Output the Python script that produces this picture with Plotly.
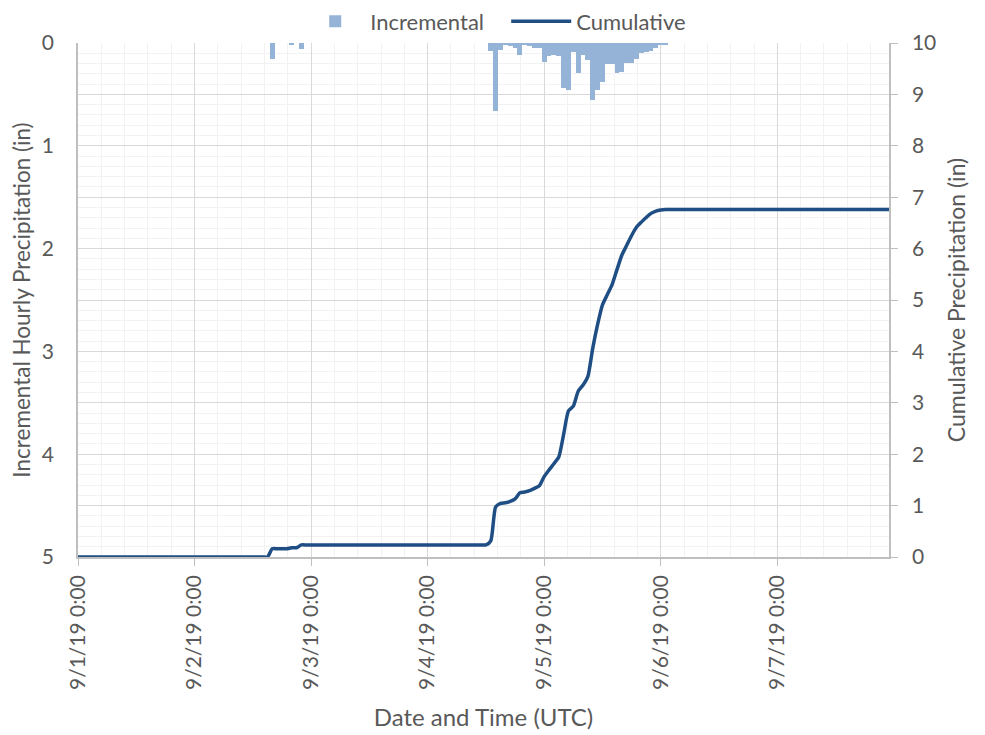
import plotly.graph_objects as go

# Hours since 9/1/19 0:00 UTC (hourly, 168 points)
hours = list(range(168))

# Incremental hourly precipitation (in), one row per day
incremental = (
    [0, 0, 0, 0, 0, 0, 0, 0, 0, 0, 0, 0, 0, 0, 0, 0, 0, 0, 0, 0, 0, 0, 0, 0]
    + [0, 0, 0, 0, 0, 0, 0, 0, 0, 0, 0, 0, 0, 0, 0, 0, 0.16, 0, 0, 0, 0.02, 0, 0.055, 0]
    + [0, 0, 0, 0, 0, 0, 0, 0, 0, 0, 0, 0, 0, 0, 0, 0, 0, 0, 0, 0, 0, 0, 0, 0]
    + [0, 0, 0, 0, 0, 0, 0, 0, 0, 0, 0, 0, 0, 0.08, 0.66, 0.07, 0.01, 0.025, 0.05, 0.12,
       0.015, 0.025, 0.045, 0.05]
    + [0.18, 0.13, 0.12, 0.13, 0.44, 0.46, 0.09, 0.29, 0.12, 0.17, 0.55, 0.46, 0.38, 0.20,
       0.20, 0.29, 0.28, 0.19, 0.19, 0.16, 0.10, 0.09, 0.08, 0.045]
    + [0.02, 0.01, 0, 0, 0, 0, 0, 0, 0, 0, 0, 0, 0, 0, 0, 0, 0, 0, 0, 0, 0, 0, 0, 0]
    + [0, 0, 0, 0, 0, 0, 0, 0, 0, 0, 0, 0, 0, 0, 0, 0, 0, 0, 0, 0, 0, 0, 0, 0]
)

# Cumulative precipitation (in), one row per day
cumulative = (
    [0, 0, 0, 0, 0, 0, 0, 0, 0, 0, 0, 0, 0, 0, 0, 0, 0, 0, 0, 0, 0, 0, 0, 0]
    + [0, 0, 0, 0, 0, 0, 0, 0, 0, 0, 0, 0, 0, 0, 0, 0, 0.16, 0.16, 0.16, 0.16, 0.18, 0.18,
       0.235, 0.235]
    + [0.235, 0.235, 0.235, 0.235, 0.235, 0.235, 0.235, 0.235, 0.235, 0.235, 0.235, 0.235,
       0.235, 0.235, 0.235, 0.235, 0.235, 0.235, 0.235, 0.235, 0.235, 0.235, 0.235, 0.235]
    + [0.235, 0.235, 0.235, 0.235, 0.235, 0.235, 0.235, 0.235, 0.235, 0.235, 0.235, 0.235,
       0.235, 0.315, 0.975, 1.045, 1.055, 1.08, 1.13, 1.25, 1.265, 1.29, 1.335, 1.385]
    + [1.565, 1.695, 1.815, 1.945, 2.385, 2.845, 2.935, 3.225, 3.345, 3.515, 4.065, 4.525,
       4.905, 5.105, 5.305, 5.595, 5.875, 6.065, 6.255, 6.415, 6.515, 6.605, 6.685, 6.73]
    + [6.75, 6.76, 6.76, 6.76, 6.76, 6.76, 6.76, 6.76, 6.76, 6.76, 6.76, 6.76,
       6.76, 6.76, 6.76, 6.76, 6.76, 6.76, 6.76, 6.76, 6.76, 6.76, 6.76, 6.76]
    + [6.76, 6.76, 6.76, 6.76, 6.76, 6.76, 6.76, 6.76, 6.76, 6.76, 6.76, 6.76,
       6.76, 6.76, 6.76, 6.76, 6.76, 6.76, 6.76, 6.76, 6.76, 6.76, 6.76, 6.76]
)

tick_hours = [0, 24, 48, 72, 96, 120, 144]
tick_labels = ["9/1/19 0:00", "9/2/19 0:00", "9/3/19 0:00", "9/4/19 0:00",
               "9/5/19 0:00", "9/6/19 0:00", "9/7/19 0:00"]

FONT = "Lato"
TXT = "#595959"
MAJ = "#d9d9d9"
MIN = "#f2f2f2"
AX = "#bfbfbf"

fig = go.Figure()
fig.add_trace(go.Bar(
    x=hours, y=incremental, width=1, name="Incremental",
    marker=dict(color="#95b3d7", line=dict(width=0)), yaxis="y",
))
fig.add_trace(go.Scatter(
    x=hours, y=cumulative, name="Cumulative", mode="lines",
    line=dict(color="#1f4e85", width=3.5, shape="spline", smoothing=0.6), yaxis="y2",
))

fig.update_layout(
    template="none",
    width=985, height=735,
    margin=dict(l=70, r=104, t=35, b=186, autoexpand=False),
    paper_bgcolor="white", plot_bgcolor="white",
    font=dict(family=FONT, color=TXT, size=21),
    showlegend=True,
    legend=dict(orientation="h", x=0.274, xanchor="left", y=1.042, yanchor="middle",
                font=dict(size=22, color=TXT), bgcolor="rgba(0,0,0,0)",
                traceorder="normal", itemwidth=60, entrywidth=131),
    bargap=0,
    xaxis=dict(
        range=[0, 167], tickmode="array", tickvals=tick_hours, ticktext=tick_labels,
        tickangle=-90, tickfont=dict(size=21, color=TXT),
        ticks="outside", ticklen=7, tickcolor=AX, ticklabelstandoff=1,
        showgrid=True, gridcolor=MAJ, gridwidth=1,
        minor=dict(dtick=4.8, tick0=0, showgrid=True, gridcolor=MIN, gridwidth=1, ticks=""),
        showline=True, linecolor=AX, linewidth=1.5, zeroline=False,
        title=dict(text="Date and Time (UTC)", font=dict(size=24, color=TXT), standoff=20),
        automargin=False,
    ),
    yaxis=dict(
        range=[5, 0], tickmode="linear", tick0=0, dtick=1,
        tickfont=dict(size=21, color=TXT), ticks="", ticklabelstandoff=18,
        showgrid=False, zeroline=False,
        showline=True, linecolor=AX, linewidth=1.5,
        title=dict(text="Incremental Hourly Precipitation (in)",
                   font=dict(size=22.5, color=TXT), standoff=10),
        automargin=False,
    ),
    yaxis2=dict(
        range=[0, 10], overlaying="y", side="right", tickmode="linear", tick0=0, dtick=1,
        tickfont=dict(size=21, color=TXT), ticks="outside", ticklen=7, tickcolor=AX,
        ticklabelstandoff=10,
        showgrid=True, gridcolor=MAJ, gridwidth=1,
        minor=dict(dtick=0.2, tick0=0, showgrid=True, gridcolor=MIN, gridwidth=1, ticks=""),
        zeroline=False, showline=True, linecolor=AX, linewidth=1.5,
        title=dict(text="Cumulative Precipitation (in)", font=dict(size=23, color=TXT),
                   standoff=14),
        automargin=False,
    ),
)

fig.write_html("out.html")
